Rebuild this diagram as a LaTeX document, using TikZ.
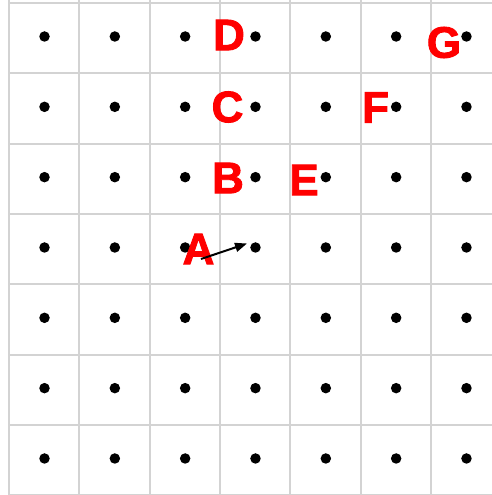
\documentclass[tikz,border=0pt]{standalone}
\usepackage{fontspec}
\setmainfont{Liberation Sans}
\newfontfamily\heavyfont[FakeBold=2]{Liberation Sans Bold}
\usetikzlibrary{arrows.meta}
\begin{document}
\begin{tikzpicture}[x=1pt,y=-1pt,
  gridline/.style={draw={rgb,255:red,211;green,211;blue,211},line width=2pt},
  dot/.style={circle,fill=black,inner sep=0pt,minimum size=10.5pt},
  lbl/.style={text=red,font=\fontsize{44}{44}\heavyfont,inner sep=0pt,anchor=center},
  arr/.style={-{Triangle[length=12pt,width=9pt]},line width=2pt,draw=black}]
\useasboundingbox (0,0) rectangle (492,495);
\fill[white] (0,0) rectangle (492,495);
% grid
\foreach \i in {0,...,7}{
  \draw[gridline] ({9+70.33*\i},0) -- ({9+70.33*\i},500);
  \draw[gridline] (9,{3+70.33*\i}) -- (500,{3+70.33*\i});
}
% dots
\foreach \i in {0,...,6}{
  \foreach \j in {0,...,6}{
    \node[dot] (p-\i-\j) at ({44.5+70.33*\i},{36.5+70.33*\j}) {};
  }
}
% labels
\node[lbl] (A) at (198.5,249) {A};
\node[lbl] (B) at (228,178) {B};
\node[lbl] (C) at (227.5,107) {C};
\node[lbl] (D) at (229,35) {D};
\node[lbl] (E) at (304,180) {E};
\node[lbl] (F) at (375.5,107.5) {F};
\node[lbl] (G) at (444,42.5) {G};
% arrow
\coordinate (s) at (201,259);
\coordinate (t) at (247,243.5);
\draw[arr] (s) -- (t);
\end{tikzpicture}
\end{document}
